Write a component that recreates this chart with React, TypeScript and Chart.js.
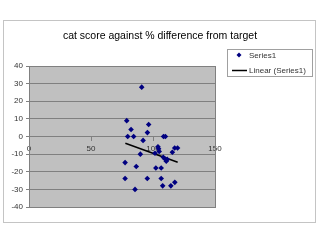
import React, { useEffect, useRef } from "react";
import { Chart, registerables } from "chart.js";

Chart.register(...registerables);

const TITLE = "cat score against % difference from target";
const SERIES_LABEL = "Series1";
const TREND_LABEL = "Linear (Series1)";

const xValues = [
  90.9, 78.8, 82.3, 96.5, 79.6, 84.4, 95.5, 92.0, 108.5, 110.0,
  104.0, 104.5, 101.6, 105.0, 89.8, 115.6, 117.5, 119.8, 108.3, 109.7,
  110.7, 77.5, 86.5, 102.3, 106.6, 77.5, 95.4, 106.6, 85.5, 107.8,
  114.4, 117.6, 111.5,
];
const yValues = [
  28, 9, 4, 6.8, 0, 0, 2.2, -2.2, 0, 0,
  -5.8, -7, -9.5, -8.5, -10, -8.9, -6.5, -6.5, -11.8, -12.8,
  -14, -14.8, -17, -17.9, -17.9, -23.8, -23.8, -23.8, -30, -28,
  -28, -26, -13,
];
const trendX = [77.7, 119.9];
const trendY = [-3.8, -14.6];
const xTicks = [0, 50, 100, 150];
const yTicks = [-40, -30, -20, -10, 0, 10, 20, 30, 40];

const FONT = "'Liberation Sans', Arial, sans-serif";

export default function App() {
  const ref = useRef<HTMLCanvasElement | null>(null);

  useEffect(() => {
    const canvas = ref.current;
    if (!canvas) return;

    const decor = {
      id: "decor",
      beforeDraw(chart: any) {
        const { ctx, chartArea: a } = chart;
        ctx.save();
        ctx.fillStyle = "#ffffff";
        ctx.fillRect(0, 0, chart.width, chart.height);
        ctx.strokeStyle = "#c4c4c4";
        ctx.lineWidth = 1;
        ctx.strokeRect(3.5, 20.5, 312, 202);
        ctx.fillStyle = "#c0c0c0";
        ctx.fillRect(a.left, a.top, a.right - a.left, a.bottom - a.top);
        ctx.restore();
      },
      afterDraw(chart: any) {
        const { ctx, chartArea: a } = chart;
        ctx.save();
        ctx.strokeStyle = "#808080";
        ctx.lineWidth = 1;
        ctx.strokeRect(Math.round(a.left) + 0.5, Math.round(a.top) + 0.5, Math.round(a.right - a.left), Math.round(a.bottom - a.top));
        // title
        ctx.fillStyle = "#000000";
        ctx.font = `10.5px ${FONT}`;
        ctx.textAlign = "center";
        ctx.textBaseline = "middle";
        ctx.fillText(TITLE, 160, 36);
        // legend
        ctx.strokeStyle = "#a0a0a0";
        ctx.strokeRect(227.5, 49.5, 85, 27);
        ctx.fillStyle = "#000080";
        ctx.beginPath();
        ctx.moveTo(239, 52.5);
        ctx.lineTo(241.5, 55);
        ctx.lineTo(239, 57.5);
        ctx.lineTo(236.5, 55);
        ctx.closePath();
        ctx.fill();
        ctx.strokeStyle = "#000000";
        ctx.lineWidth = 1.5;
        ctx.beginPath();
        ctx.moveTo(232, 70.5);
        ctx.lineTo(247, 70.5);
        ctx.stroke();
        ctx.fillStyle = "#333333";
        ctx.font = `8px ${FONT}`;
        ctx.textAlign = "left";
        ctx.fillText(SERIES_LABEL, 249, 55.5);
        ctx.fillText(TREND_LABEL, 249, 70.5);
        ctx.restore();
      },
    };

    const chart = new Chart(canvas, {
      type: "scatter",
      data: {
        datasets: [
          {
            label: SERIES_LABEL,
            data: xValues.map((x, i) => ({ x, y: yValues[i] })),
            pointStyle: "rectRot",
            pointRadius: 2.8,
            backgroundColor: "#000080",
            borderColor: "#000080",
            borderWidth: 0,
          },
          {
            label: TREND_LABEL,
            type: "line",
            data: trendX.map((x, i) => ({ x, y: trendY[i] })),
            showLine: true,
            pointRadius: 0,
            borderColor: "#000000",
            borderWidth: 1.5,
            fill: false,
          },
        ],
      },
      options: {
        responsive: false,
        animation: false,
        devicePixelRatio: 1,
        layout: { padding: { left: 0, right: 105, top: 66, bottom: 33 } },
        plugins: {
          legend: { display: false },
          title: { display: false },
          tooltip: { enabled: false },
        },
        scales: {
          x: {
            type: "linear",
            position: { y: 0 } as any,
            min: 0,
            max: 150,
            afterBuildTicks: (s: any) => {
              s.ticks = xTicks.map((v) => ({ value: v }));
            },
            grid: {
              drawOnChartArea: false,
              drawTicks: true,
              tickLength: 4,
              color: "#808080",
            },
            border: { display: true, color: "#808080" },
            ticks: {
              color: "#333333",
              font: { family: FONT, size: 8 },
              padding: 3,
              maxRotation: 0,
            },
          },
          y: {
            type: "linear",
            position: "left",
            min: -40,
            max: 40,
            afterBuildTicks: (s: any) => {
              s.ticks = yTicks.map((v) => ({ value: v }));
            },
            afterFit: (s: any) => {
              s.width = 29;
            },
            grid: {
              color: "#808080",
              tickLength: 3,
            },
            border: { display: true, color: "#808080" },
            ticks: {
              color: "#333333",
              font: { family: FONT, size: 8 },
              padding: 3,
            },
          },
        },
      },
      plugins: [decor],
    });

    return () => chart.destroy();
  }, []);

  return (
    <div style={{ position: "fixed", left: 0, top: 0, width: 320, height: 240, background: "#fff" }}>
      <canvas ref={ref} width={320} height={240} style={{ width: 320, height: 240, display: "block" }} />
    </div>
  );
}
